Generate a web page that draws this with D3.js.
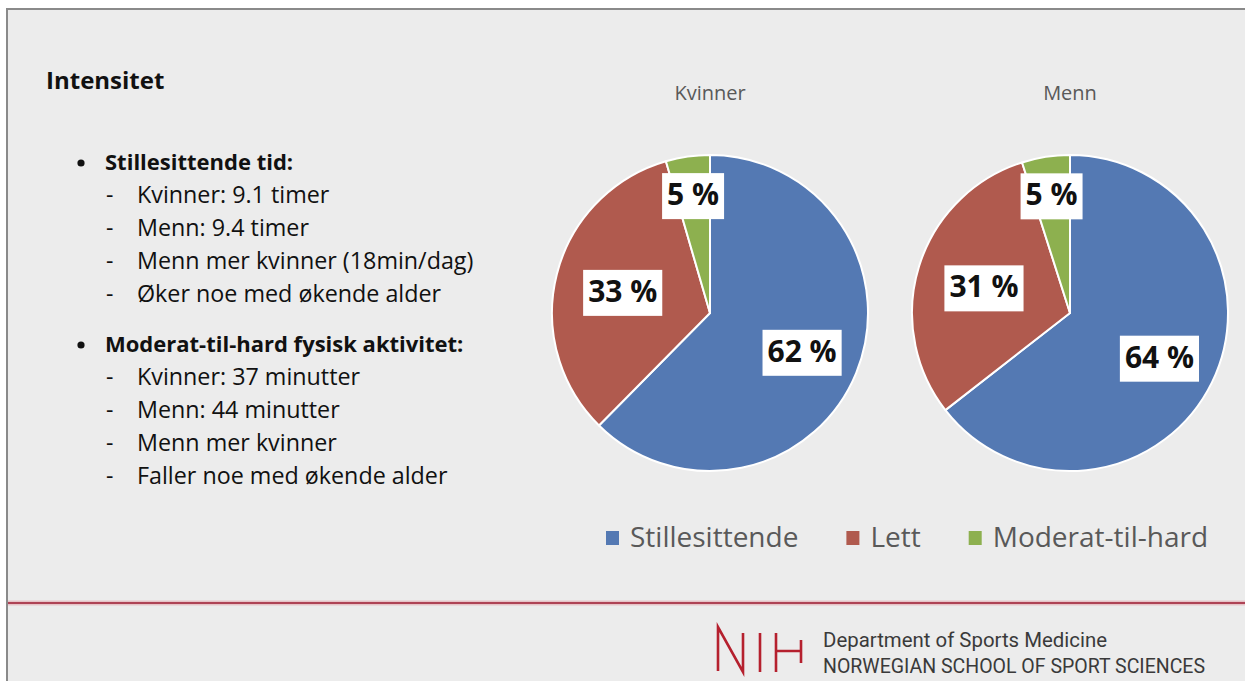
<!DOCTYPE html>
<html>
<head>
<meta charset="utf-8">
<script src="https://cdn.jsdelivr.net/npm/d3@7"></script>
<style>
  body { margin: 0; background: #fff; }
  svg { display: block; }
</style>
</head>
<body>
<div id="slide"></div>
<script>
var W = 1245, H = 681;
var PIE_R = 158, PIE_CY = 313;
var FONT = "'Open Sans', 'Noto Sans', sans-serif";

// data
var categories = ["Stillesittende", "Lett", "Moderat-til-hard"];
var groups = ["Kvinner", "Menn"];
var kvinnerShares = [62.4, 33.1, 4.5];
var mennShares = [64.4, 30.6, 4.9];
var sliceColors = ["#5479b3", "#b05a4e", "#8db04f"];

var heading = "Intensitet";
var sectionTitles = ["Stillesittende tid:", "Moderat-til-hard fysisk aktivitet:"];
var sedentaryItems = ["Kvinner: 9.1 timer", "Menn: 9.4 timer", "Menn mer kvinner (18min/dag)", "Øker noe med økende alder"];
var mvpaItems = ["Kvinner: 37 minutter", "Menn: 44 minutter", "Menn mer kvinner", "Faller noe med økende alder"];

var svg = d3.select("#slide").append("svg")
    .attr("width", W)
    .attr("height", H);

// slide background + border
svg.append("rect").attr("x", 7).attr("y", 9).attr("width", W).attr("height", H)
    .attr("fill", "#ececec");
svg.append("line").attr("x1", 6).attr("x2", W).attr("y1", 9).attr("y2", 9)
    .attr("stroke", "#8a8a8a").attr("stroke-width", 2);
svg.append("line").attr("x1", 7).attr("x2", 7).attr("y1", 8).attr("y2", H)
    .attr("stroke", "#8a8a8a").attr("stroke-width", 2);

// left text block
svg.append("text")
    .attr("x", 46).attr("y", 89)
    .attr("font-family", FONT).attr("font-weight", 700).attr("font-size", 24)
    .attr("fill", "#111")
    .text(heading);

var sections = [sedentaryItems, mvpaItems];
var y = 170;
sections.forEach(function(items, si) {
    var g = svg.append("g");
    g.append("circle").attr("cx", 81).attr("cy", y - 7).attr("r", 3.6).attr("fill", "#111");
    g.append("text")
        .attr("x", 105).attr("y", y)
        .attr("font-family", FONT).attr("font-weight", 700).attr("font-size", 22)
        .attr("fill", "#111")
        .text(sectionTitles[si]);
    items.forEach(function(t, i) {
        var yy = y + 33 * (i + 1);
        g.append("text").attr("x", 106).attr("y", yy)
            .attr("font-family", FONT).attr("font-size", 23).attr("fill", "#111").text("-");
        g.append("text").attr("x", 137).attr("y", yy)
            .attr("font-family", FONT).attr("font-size", 23.3).attr("fill", "#111").text(t);
    });
    y += 33 * items.length + 50;
});

// pies
var xPie = d3.scalePoint().domain(groups).range([710, 1070]);
var pie = d3.pie().sort(null);
var arc = d3.arc().innerRadius(0).outerRadius(PIE_R);
var labelFrac = [0.63, 0.57, 0.76];

var shares = { "Kvinner": kvinnerShares, "Menn": mennShares };

groups.forEach(function(name) {
    var g = svg.append("g")
        .attr("transform", "translate(" + xPie(name) + "," + PIE_CY + ")");

    g.append("text")
        .attr("x", 0).attr("y", 100 - PIE_CY)
        .attr("text-anchor", "middle")
        .attr("font-family", FONT).attr("font-size", 20)
        .attr("fill", "#595959")
        .text(name);

    var arcs = pie(shares[name]);

    g.selectAll("path")
        .data(arcs)
        .enter()
        .append("path")
            .attr("d", arc)
            .attr("fill", function(d, i) { return sliceColors[i]; })
            .attr("stroke", "#fff")
            .attr("stroke-width", 2)
            .attr("stroke-linejoin", "round");

    var labels = g.selectAll("g.lbl")
        .data(arcs)
        .enter()
        .append("g")
            .attr("class", "lbl")
            .attr("transform", function(d, i) {
                var r = PIE_R * labelFrac[i];
                var c = d3.arc().innerRadius(r).outerRadius(r).centroid(d);
                return "translate(" + c[0] + "," + c[1] + ")";
            });

    labels.append("text")
        .attr("text-anchor", "middle")
        .attr("y", 11)
        .attr("font-family", FONT).attr("font-weight", 700).attr("font-size", 30)
        .attr("fill", "#111")
        .text(function(d) { return Math.round(d.data) + " %"; });

    labels.each(function() {
        var t = d3.select(this).select("text");
        var b = t.node().getBBox();
        d3.select(this).insert("rect", "text")
            .attr("x", b.x - 5).attr("y", b.y)
            .attr("width", b.width + 10).attr("height", b.height + 5)
            .attr("fill", "#fff");
    });
});

// legend
var legend = svg.append("g").attr("transform", "translate(606,547)");
var lx = 0;
categories.forEach(function(c, i) {
    var item = legend.append("g").attr("transform", "translate(" + lx + ",0)");
    item.append("rect")
        .attr("x", 0).attr("y", -16).attr("width", 13).attr("height", 14)
        .attr("fill", sliceColors[i]);
    var t = item.append("text")
        .attr("x", 24).attr("y", 0)
        .attr("font-family", FONT).attr("font-size", 28)
        .attr("fill", "#595959")
        .text(c);
    lx += 24 + t.node().getComputedTextLength() + 48;
});

// footer
svg.append("line").attr("x1", 8).attr("x2", W).attr("y1", 603).attr("y2", 603)
    .attr("stroke", "#e6c3c7").attr("stroke-width", 5);
svg.append("line").attr("x1", 8).attr("x2", W).attr("y1", 603).attr("y2", 603)
    .attr("stroke", "#ae4355").attr("stroke-width", 2);

var logo = svg.append("g")
    .attr("fill", "none").attr("stroke", "#b5202e").attr("stroke-width", 2.6);
logo.append("path").attr("d", "M718,671 L718,627 L743,672 L743,633");
logo.append("path").attr("d", "M760,633 L760,672");
logo.append("path").attr("d", "M776,633 L776,672 M776,651 L802,651 M801,640 L801,663");

svg.append("text")
    .attr("x", 823).attr("y", 647)
    .attr("font-family", "Roboto, sans-serif").attr("font-size", 20)
    .attr("fill", "#3a3a3a")
    .attr("textLength", 284).attr("lengthAdjust", "spacingAndGlyphs")
    .text("Department of Sports Medicine");
svg.append("text")
    .attr("x", 823).attr("y", 673)
    .attr("font-family", "Roboto, sans-serif").attr("font-size", 20)
    .attr("fill", "#3a3a3a")
    .attr("textLength", 382).attr("lengthAdjust", "spacingAndGlyphs")
    .text("NORWEGIAN SCHOOL OF SPORT SCIENCES");
</script>
</body>
</html>
